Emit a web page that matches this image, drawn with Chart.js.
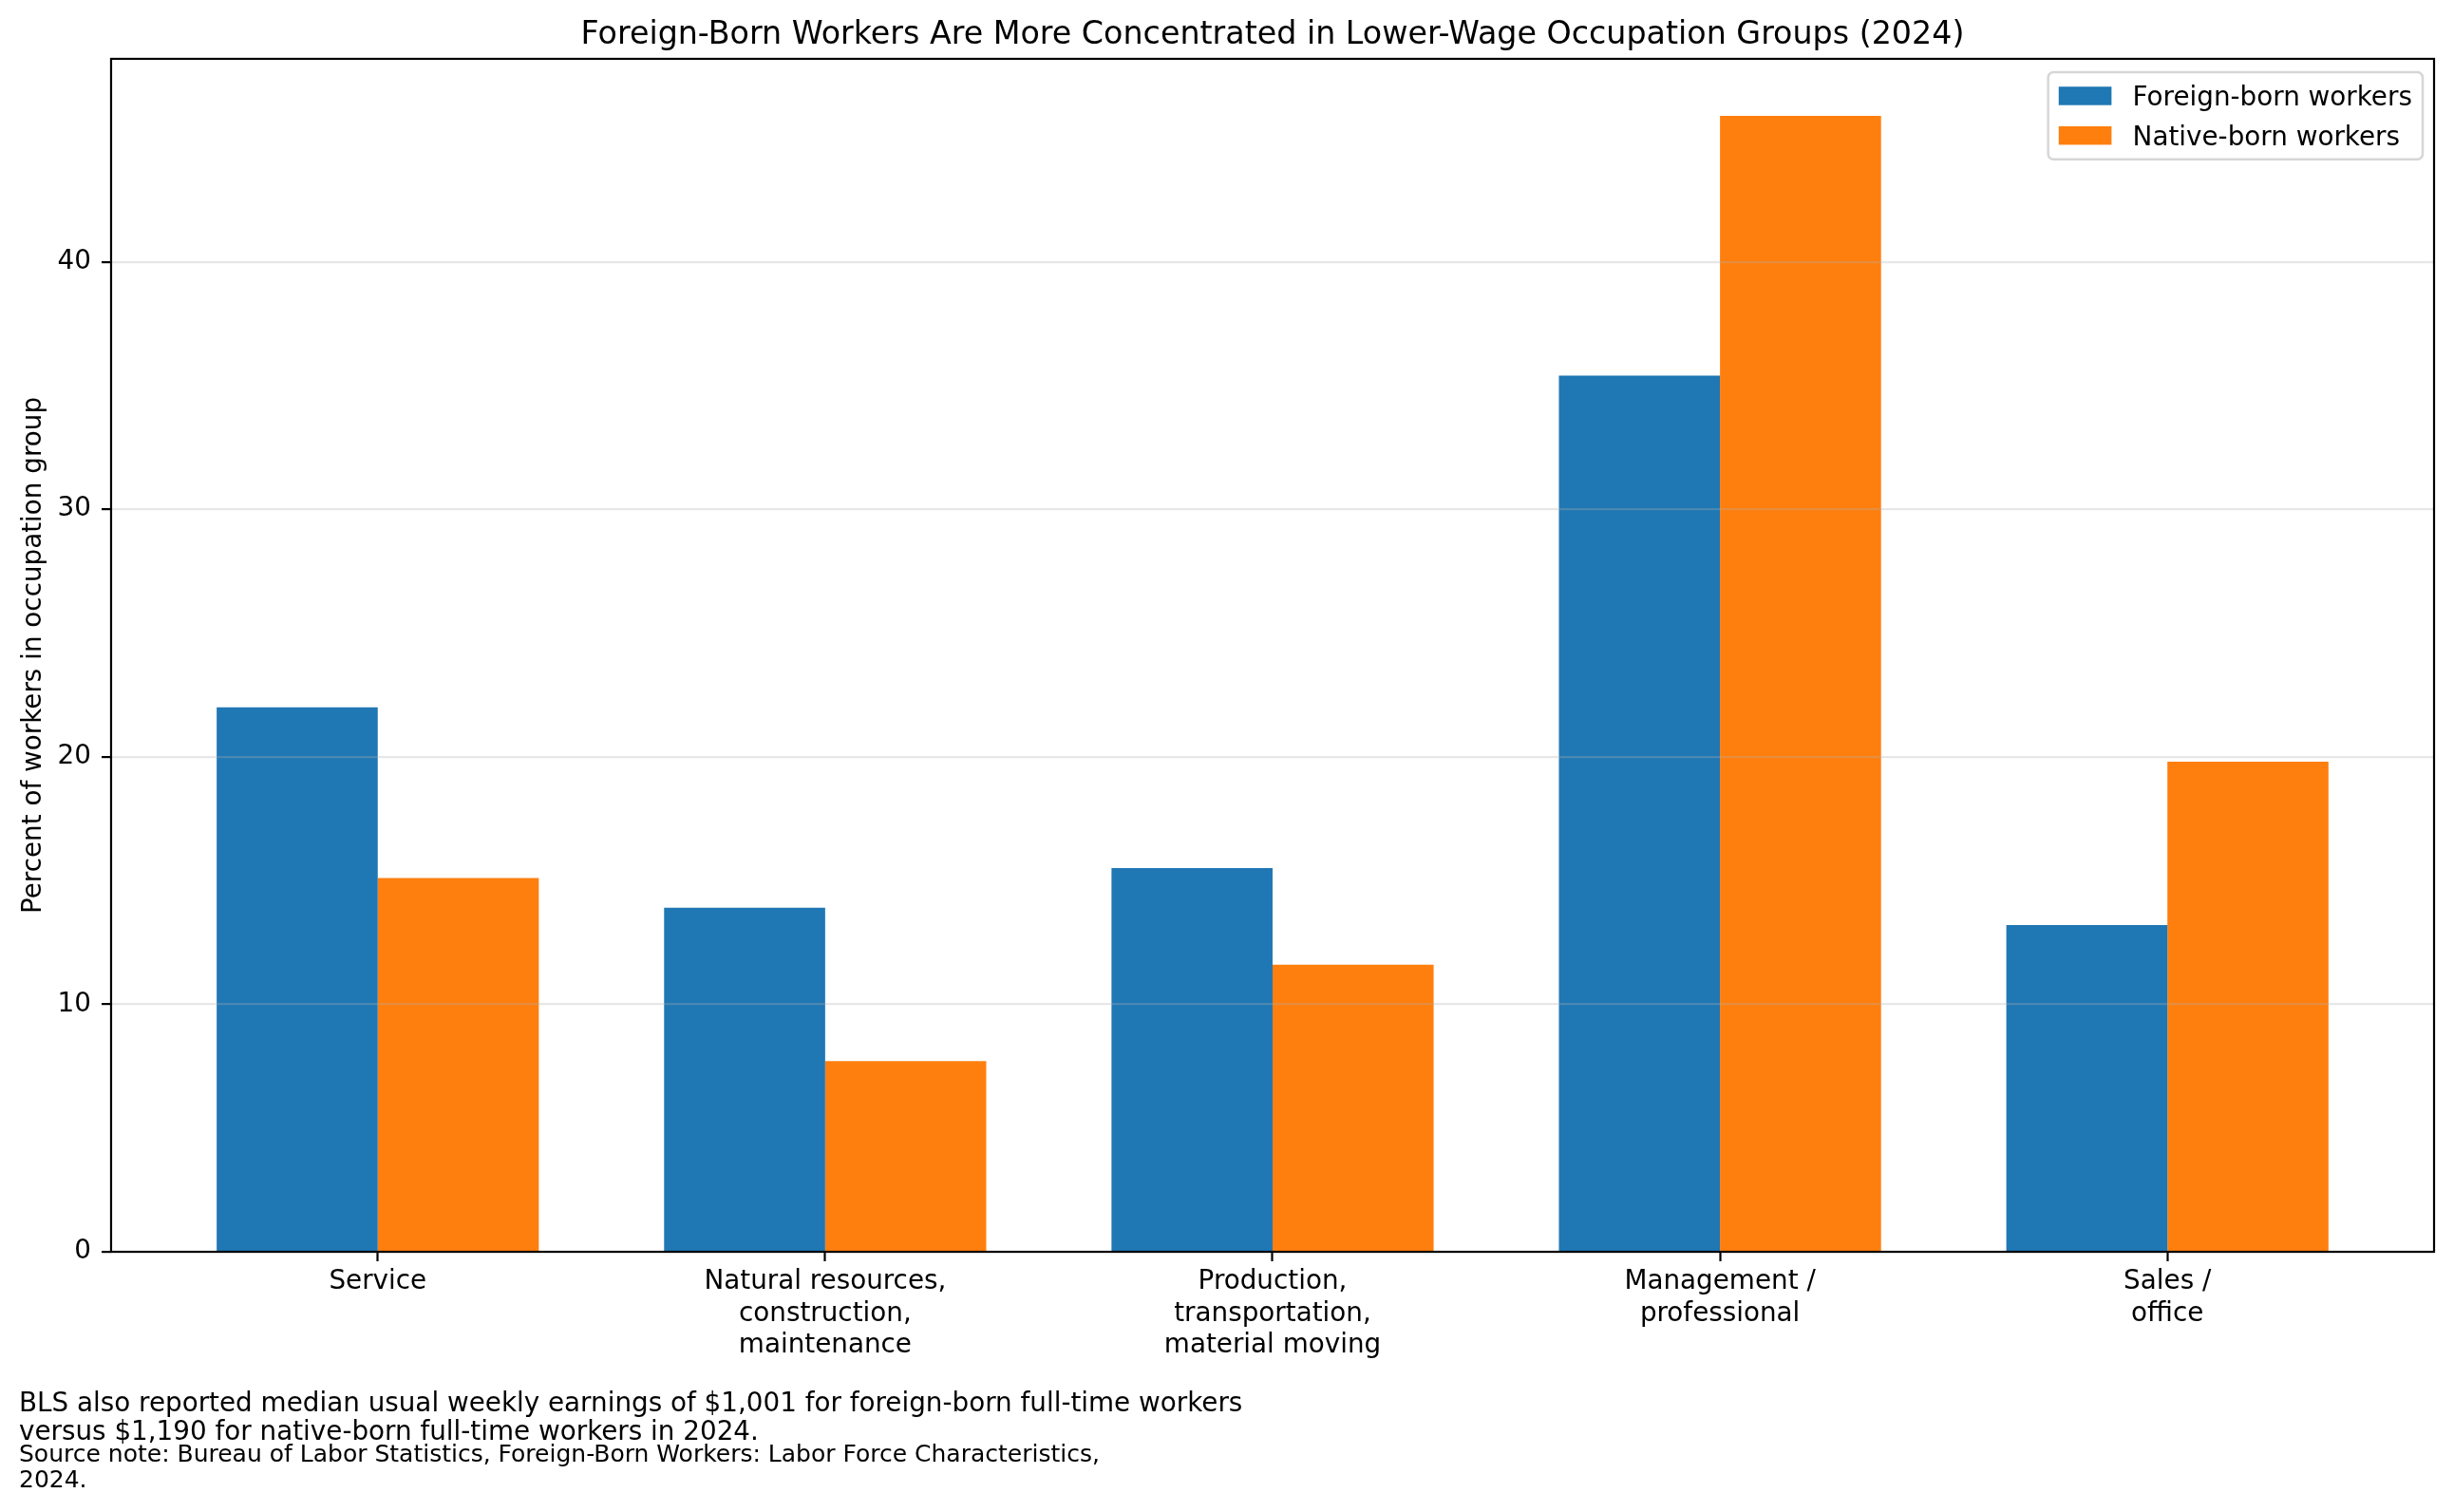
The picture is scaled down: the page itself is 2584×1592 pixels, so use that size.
<!DOCTYPE html>
<html>
<head>
<meta charset="utf-8">
<script src="https://cdn.jsdelivr.net/npm/chart.js@4.4.1/dist/chart.umd.min.js"></script>
<style>
    body { margin: 0; background: #fff; }
    #wrap { width: 2584px; height: 1592px; }
</style>
</head>
<body>
<div id="wrap"><canvas id="OccupationChart"></canvas></div>
<script>
// occupation groups (tick labels split into lines like the original)
const CATEGORIES = [
    ["Service"],
    ["Natural resources,", "construction,", "maintenance"],
    ["Production,", "transportation,", "material moving"],
    ["Management /", "professional"],
    ["Sales /", "office"]
];

// percent of workers in each group, 2024
const FOREIGN_BORN = [22.0, 13.9, 15.5, 35.4, 13.2];
const NATIVE_BORN = [15.1, 7.7, 11.6, 45.9, 19.8];

const Y_TICKS = [0, 10, 20, 30, 40];
const Y_MAX = 48.2;
const X_MIN = -0.596;
const X_MAX = 4.596;

const TITLE = "Foreign-Born Workers Are More Concentrated in Lower-Wage Occupation Groups (2024)";
const Y_LABEL = "Percent of workers in occupation group";
const NOTE_LINES = [
    "BLS also reported median usual weekly earnings of $1,001 for foreign-born full-time workers",
    "versus $1,190 for native-born full-time workers in 2024."
];
const SOURCE_LINES = [
    "Source note: Bureau of Labor Statistics, Foreign-Born Workers: Labor Force Characteristics,",
    "2024."
];

const FONT = "DejaVu Sans";
const FS = 27.8;

Chart.defaults.font.family = FONT;
Chart.defaults.font.size = FS;
Chart.defaults.color = "#000";

// matplotlib centres the title over the axes, not the whole figure
const centerTitle = {
    id: 'centerTitle',
    afterLayout(chart) {
        chart.titleBlock.left = chart.chartArea.left;
        chart.titleBlock.right = chart.chartArea.right;
    }
};

// axes frame, legend box inside the plot and the footnotes
const extras = {
    id: 'extras',
    afterDraw(chart) {
        const ctx = chart.ctx;
        const a = chart.chartArea;
        ctx.save();

        ctx.strokeStyle = "#000";
        ctx.lineWidth = 2.2;
        ctx.strokeRect(a.left, a.top, a.right - a.left, a.bottom - a.top);

        // legend
        ctx.font = FS + "px '" + FONT + "'";
        const sets = chart.data.datasets;
        let textW = 0;
        sets.forEach(function(ds) { textW = Math.max(textW, ctx.measureText(ds.label).width); });
        const pad = 0.4 * FS, handle = 2 * FS, gap = 0.8 * FS, spacing = 0.5 * FS;
        const boxW = pad * 2 + handle + gap + textW;
        const boxH = pad * 2 + sets.length * FS + (sets.length - 1) * spacing;
        const bx = a.right - 12 - boxW;
        const by = a.top + 14;
        ctx.beginPath();
        ctx.roundRect(bx, by, boxW, boxH, 0.2 * FS);
        ctx.fillStyle = "rgba(255,255,255,0.8)";
        ctx.fill();
        ctx.strokeStyle = "rgba(204,204,204,0.8)";
        ctx.lineWidth = 2.5;
        ctx.stroke();
        sets.forEach(function(ds, i) {
            const cy = by + pad + i * (FS + spacing) + FS / 2;
            ctx.fillStyle = ds.backgroundColor;
            ctx.fillRect(bx + pad, cy - 0.35 * FS, handle, 0.7 * FS);
            ctx.fillStyle = "#000";
            ctx.textBaseline = "alphabetic";
            ctx.textAlign = "left";
            ctx.fillText(ds.label, bx + pad + handle + gap, cy + 0.365 * FS);
        });

        // footnotes
        ctx.fillStyle = "#000";
        ctx.font = "27.8px '" + FONT + "'";
        ctx.fillText(NOTE_LINES[0], 20, 1486);
        ctx.fillText(NOTE_LINES[1], 20, 1516);
        ctx.font = "25px '" + FONT + "'";
        ctx.fillText(SOURCE_LINES[0], 20, 1538.5);
        ctx.fillText(SOURCE_LINES[1], 20, 1566);
        ctx.restore();
    }
};

const data_occ = {
    datasets: [{
        label: 'Foreign-born workers',
        backgroundColor: '#1f77b4',
        borderWidth: 0,
        data: FOREIGN_BORN.map(function(v, i) { return {x: i, y: v}; }),
    }, {
        label: 'Native-born workers',
        backgroundColor: '#ff7f0e',
        borderWidth: 0,
        data: NATIVE_BORN.map(function(v, i) { return {x: i, y: v}; }),
    }]
};

const config_occ = {
    type: 'bar',
    data: data_occ,
    options: {
        responsive: true,
        maintainAspectRatio: false,
        devicePixelRatio: 1,
        animation: false,
        categoryPercentage: 0.72,
        barPercentage: 1.0,
        layout: {
            padding: {left: 15, right: 21, top: 0, bottom: 153.3}
        },
        plugins: {
            legend: { display: false },
            tooltip: { enabled: false },
            title: {
                display: true,
                text: TITLE,
                font: { size: 33.3, weight: 'normal' },
                color: '#000',
                padding: {top: 17, bottom: 5}
            }
        },
        scales: {
            x: {
                type: 'linear',
                min: X_MIN,
                max: X_MAX,
                offset: false,
                afterBuildTicks: function(axis) {
                    axis.ticks = CATEGORIES.map(function(c, i) { return {value: i}; });
                },
                ticks: {
                    autoSkip: false,
                    maxRotation: 0,
                    padding: 5.3,
                    callback: function(value) { return CATEGORIES[value]; }
                },
                grid: {
                    offset: false,
                    drawOnChartArea: false,
                    drawTicks: true,
                    tickLength: 10,
                    tickColor: '#000',
                    tickWidth: 2.2
                },
                border: { display: false }
            },
            y: {
                min: 0,
                max: Y_MAX,
                afterBuildTicks: function(axis) {
                    axis.ticks = Y_TICKS.map(function(v) { return {value: v}; });
                },
                ticks: { padding: 11 },
                grid: {
                    z: 1,
                    color: 'rgba(176,176,176,0.3)',
                    lineWidth: 2.2,
                    tickLength: 10,
                    tickColor: '#000',
                    tickWidth: 2.2
                },
                border: { display: false },
                title: {
                    display: true,
                    text: Y_LABEL,
                    font: { lineHeight: 1 },
                    padding: {top: 6.8, bottom: 0}
                }
            }
        }
    },
    plugins: [centerTitle, extras]
};

let OccupationChart = new Chart(
    document.getElementById('OccupationChart'),
    config_occ
);
</script>
</body>
</html>
